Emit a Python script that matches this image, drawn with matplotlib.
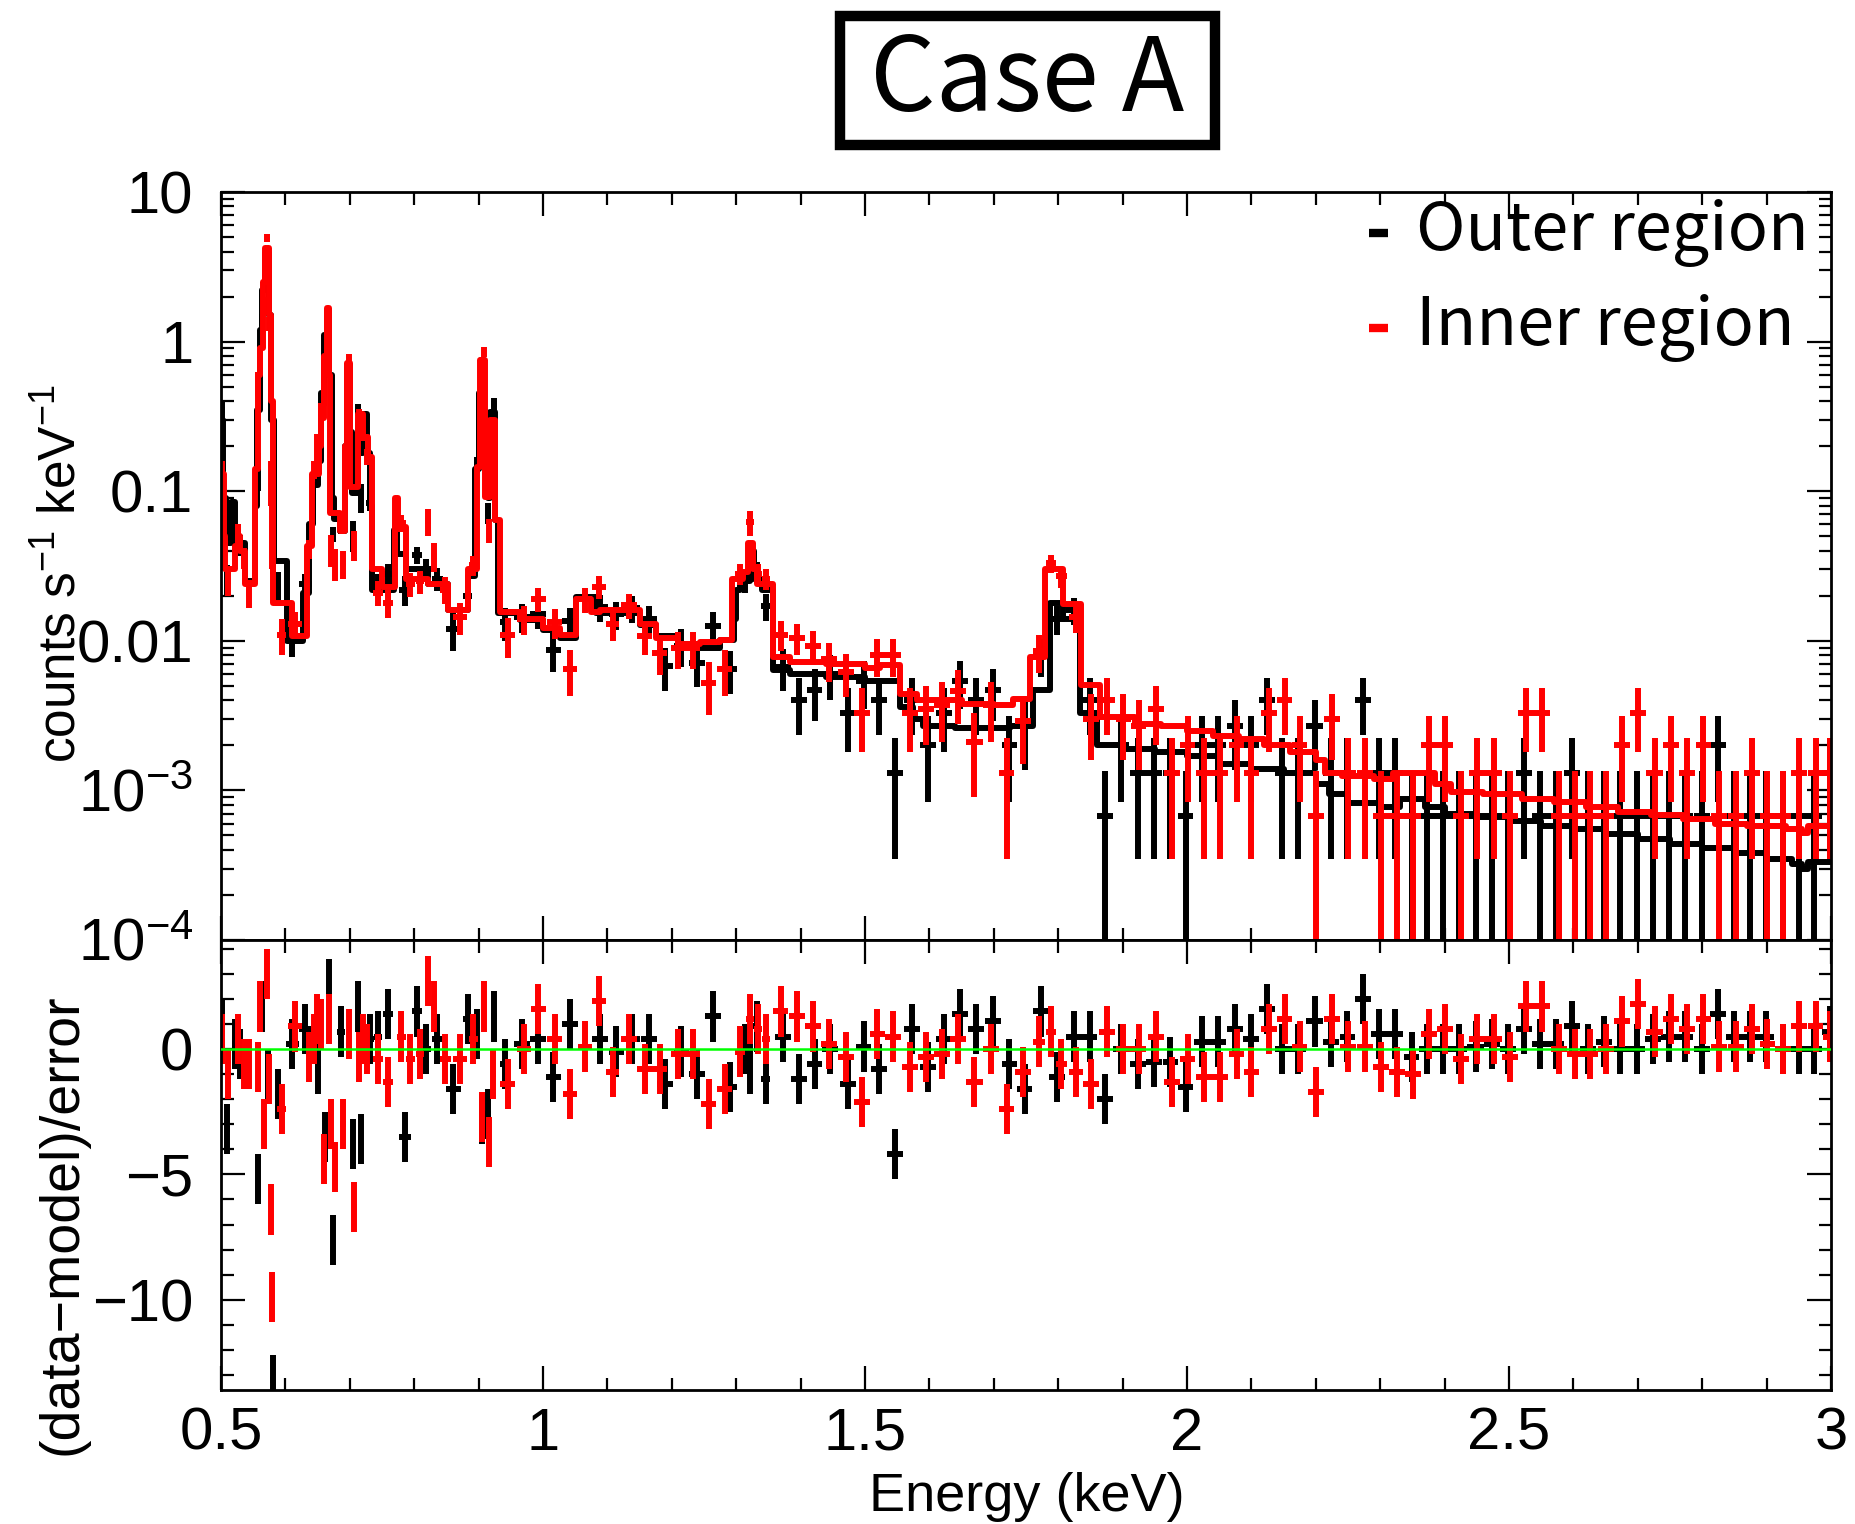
import numpy as np
import matplotlib
matplotlib.use("Agg")
import matplotlib.pyplot as plt
from matplotlib.patches import Rectangle
from matplotlib.ticker import FixedLocator, MultipleLocator, LogLocator, NullFormatter, FixedFormatter

plt.rcParams['font.family'] = ['Liberation Sans', 'DejaVu Sans']
plt.rcParams['mathtext.fontset'] = 'custom'
plt.rcParams['mathtext.rm'] = 'Liberation Sans'
plt.rcParams['mathtext.it'] = 'Liberation Sans:italic'
plt.rcParams['mathtext.bf'] = 'Liberation Sans:bold'

# model step curves: (bin lower edge keV, counts s^-1 keV^-1)
outer_model = [
    (0.500, 0.30), (0.503, 0.09), (0.507, 0.045), (0.516, 0.085), (0.521, 0.045),
    (0.537, 0.025), (0.553, 0.08), (0.556, 0.35), (0.560, 1.2), (0.564, 2.2),
    (0.568, 3.9), (0.574, 1.5), (0.578, 0.3), (0.582, 0.034), (0.602, 0.010),
    (0.628, 0.021), (0.636, 0.06), (0.643, 0.11), (0.650, 0.16), (0.655, 0.45),
    (0.660, 1.1), (0.664, 1.6), (0.668, 0.6), (0.672, 0.09), (0.676, 0.065),
    (0.685, 0.054), (0.692, 0.2), (0.696, 0.7), (0.700, 0.25), (0.704, 0.097),
    (0.712, 0.3), (0.717, 0.18), (0.721, 0.33), (0.726, 0.18), (0.731, 0.08),
    (0.735, 0.022), (0.768, 0.055), (0.773, 0.038), (0.788, 0.030), (0.822, 0.024),
    (0.853, 0.016), (0.884, 0.027), (0.894, 0.14), (0.900, 0.45), (0.904, 0.75),
    (0.909, 0.2), (0.914, 0.09), (0.918, 0.34), (0.925, 0.064), (0.930, 0.0153),
    (0.964, 0.0138), (1.000, 0.0118), (1.026, 0.0105), (1.052, 0.0195), (1.083, 0.0153),
    (1.150, 0.0128), (1.176, 0.0107), (1.210, 0.0095), (1.244, 0.0090), (1.275, 0.0101),
    (1.296, 0.014), (1.300, 0.022), (1.306, 0.025), (1.322, 0.040), (1.328, 0.026),
    (1.340, 0.022), (1.357, 0.0064), (1.384, 0.0060), (1.440, 0.0057), (1.500, 0.0054),
    (1.554, 0.0036), (1.575, 0.0030), (1.590, 0.0027), (1.640, 0.0026), (1.725, 0.0027),
    (1.761, 0.0047), (1.787, 0.018), (1.808, 0.014), (1.834, 0.0033), (1.860, 0.0020),
    (1.900, 0.0019), (1.950, 0.0018), (2.000, 0.0017), (2.050, 0.0015), (2.100, 0.0014),
    (2.150, 0.0013), (2.200, 0.0011), (2.220, 0.00095), (2.250, 0.00082), (2.300, 0.00078),
    (2.330, 0.00088), (2.370, 0.00078), (2.400, 0.00070), (2.450, 0.00066), (2.500, 0.00062),
    (2.550, 0.00058), (2.600, 0.00055), (2.650, 0.00051), (2.700, 0.00047), (2.750, 0.00044),
    (2.800, 0.00041), (2.850, 0.00038), (2.900, 0.00035), (2.940, 0.00032), (2.955, 0.00030),
    (2.965, 0.00033), (3.000, 0.00033),
]
inner_model = [
    (0.500, 0.13), (0.504, 0.05), (0.506, 0.030), (0.522, 0.043), (0.526, 0.05),
    (0.530, 0.04), (0.537, 0.024), (0.553, 0.14), (0.557, 0.6), (0.561, 0.9),
    (0.565, 2.5), (0.569, 4.2), (0.574, 1.5), (0.577, 0.4), (0.580, 0.018),
    (0.610, 0.0107), (0.633, 0.043), (0.641, 0.13), (0.652, 0.2), (0.656, 0.31),
    (0.660, 0.8), (0.664, 1.67), (0.668, 0.6), (0.670, 0.071), (0.685, 0.054),
    (0.692, 0.2), (0.696, 0.72), (0.700, 0.107), (0.713, 0.33), (0.721, 0.23),
    (0.729, 0.17), (0.734, 0.03), (0.750, 0.023), (0.770, 0.09), (0.775, 0.058),
    (0.788, 0.026), (0.822, 0.024), (0.853, 0.016), (0.884, 0.03), (0.897, 0.146),
    (0.902, 0.75), (0.910, 0.092), (0.918, 0.30), (0.926, 0.064), (0.933, 0.0156),
    (0.964, 0.0140), (1.000, 0.0122), (1.026, 0.011), (1.052, 0.019), (1.074, 0.0155),
    (1.088, 0.016), (1.150, 0.013), (1.176, 0.0104), (1.210, 0.0095), (1.244, 0.0098),
    (1.275, 0.0101), (1.293, 0.026), (1.310, 0.029), (1.318, 0.045), (1.326, 0.030),
    (1.332, 0.024), (1.357, 0.0078), (1.384, 0.0072), (1.440, 0.0070), (1.500, 0.0066),
    (1.523, 0.0069), (1.554, 0.0044), (1.580, 0.0040), (1.650, 0.0038), (1.700, 0.0037),
    (1.730, 0.0041), (1.756, 0.0078), (1.779, 0.030), (1.808, 0.0176), (1.836, 0.0051),
    (1.865, 0.0031), (1.920, 0.0028), (1.960, 0.0027), (2.000, 0.0025), (2.040, 0.0023),
    (2.080, 0.0022), (2.120, 0.0020), (2.160, 0.0018), (2.200, 0.0016), (2.215, 0.0013),
    (2.240, 0.00125), (2.290, 0.0012), (2.320, 0.0013), (2.385, 0.0011), (2.410, 0.00098),
    (2.460, 0.00094), (2.520, 0.00088), (2.570, 0.00084), (2.620, 0.00078), (2.670, 0.00072),
    (2.720, 0.00068), (2.770, 0.00064), (2.820, 0.00060), (2.870, 0.00058), (2.930, 0.00055),
    (2.955, 0.00052), (2.965, 0.00058), (3.000, 0.00058),
]

# data bins: (energy keV, flux, 1-sigma error, (data-model)/error)
outer_data = [
    (0.501, 0.35, 0.05, 1.0), (0.510, 0.026, 0.006, -3.2), (0.521, 0.047, 0.007, 0.2),
    (0.530, 0.044, 0.007, -0.2), (0.558, 0.14, 0.04, -5.2), (0.563, 1.4, 0.12, 1.7),
    (0.573, 3.6, 0.3, -1.0), (0.580, 0.036, 0.008, -13.2), (0.589, 0.023, 0.006, -1.8),
    (0.611, 0.0106, 0.0028, 0.2), (0.631, 0.024, 0.004, 0.8), (0.651, 0.144, 0.02, -0.8),
    (0.661, 0.75, 0.1, -3.5), (0.667, 0.78, 0.07, 2.6), (0.674, 0.052, 0.006, -7.6),
    (0.686, 0.060, 0.008, 0.7), (0.705, 0.051, 0.012, -3.8), (0.712, 0.35, 0.03, 1.7),
    (0.717, 0.092, 0.02, -3.6), (0.731, 0.084, 0.01, 0.4), (0.744, 0.024, 0.004, 0.5),
    (0.759, 0.028, 0.0045, 1.4), (0.786, 0.022, 0.005, -3.5), (0.804, 0.0375, 0.005, 1.5),
    (0.819, 0.030, 0.005, 0.0), (0.836, 0.026, 0.0045, 0.4), (0.861, 0.012, 0.0035, -1.6),
    (0.883, 0.020, 0.0038, 1.2), (0.897, 0.15, 0.018, 0.6), (0.905, 0.55, 0.07, -2.8),
    (0.915, 0.072, 0.012, -2.6), (0.924, 0.385, 0.035, 1.3), (0.941, 0.0133, 0.0033, -0.6),
    (0.967, 0.0145, 0.0032, 0.2), (0.992, 0.0152, 0.0033, 0.4), (1.016, 0.0087, 0.0025, -1.1),
    (1.042, 0.0135, 0.003, 1.0), (1.089, 0.0167, 0.0034, 0.4), (1.114, 0.015, 0.0032, -0.1),
    (1.138, 0.0166, 0.0034, 0.4), (1.164, 0.014, 0.0031, 0.4), (1.189, 0.0068, 0.0022, -1.4),
    (1.215, 0.0093, 0.0026, -0.1), (1.239, 0.0071, 0.0022, -1.0), (1.264, 0.0125, 0.003, 1.3),
    (1.290, 0.0065, 0.0021, -1.5), (1.314, 0.025, 0.0042, 0.0), (1.321, 0.036, 0.005, -0.8),
    (1.332, 0.029, 0.0045, 0.9), (1.346, 0.017, 0.0035, -1.2), (1.372, 0.0067, 0.0021, 0.5),
    (1.397, 0.0040, 0.00164, -1.2), (1.422, 0.0047, 0.00177, -0.6), (1.446, 0.0060, 0.0020, 0.0),
    (1.473, 0.0033, 0.0015, -1.4), (1.498, 0.0054, 0.0019, 0.1), (1.522, 0.0040, 0.00164, -0.8),
    (1.547, 0.0013, 0.00095, -4.2), (1.573, 0.0040, 0.00164, 0.8), (1.598, 0.0020, 0.00116, -0.7),
    (1.623, 0.0033, 0.0015, 0.4), (1.648, 0.0054, 0.0019, 1.4), (1.673, 0.0040, 0.00164, 0.8),
    (1.699, 0.0047, 0.00177, 1.1), (1.724, 0.0020, 0.00116, -0.6), (1.748, 0.0027, 0.00134, -1.6),
    (1.773, 0.0080, 0.0023, 1.5), (1.798, 0.014, 0.003, -1.1), (1.824, 0.016, 0.0033, 0.5),
    (1.849, 0.0040, 0.00164, 0.5), (1.873, 0.00067, 0.00067, -2.0), (1.898, 0.0020, 0.00116, 0.0),
    (1.924, 0.0013, 0.00095, -0.6), (1.949, 0.0013, 0.00095, -0.5), (1.974, 0.0013, 0.00095, -0.5),
    (1.998, 0.00067, 0.00067, -1.5), (2.023, 0.0020, 0.00116, 0.3), (2.048, 0.0020, 0.00116, 0.3),
    (2.074, 0.0027, 0.00134, 0.8), (2.099, 0.0020, 0.00116, 0.4), (2.124, 0.0040, 0.00164, 1.6),
    (2.148, 0.0013, 0.00095, 0.0), (2.173, 0.0013, 0.00095, 0.0), (2.198, 0.0027, 0.00134, 1.1),
    (2.223, 0.0013, 0.00095, 0.3), (2.249, 0.0013, 0.00095, 0.5), (2.273, 0.0040, 0.00164, 2.0),
    (2.298, 0.0013, 0.00095, 0.6), (2.323, 0.0013, 0.00095, 0.6), (2.349, 0.00067, 0.00067, -0.3),
    (2.373, 0.00067, 0.00067, 0.0), (2.398, 0.00067, 0.00067, 0.0), (2.423, 0.00067, 0.00067, 0.0),
    (2.448, 0.00067, 0.00067, 0.1), (2.473, 0.00067, 0.00067, 0.2), (2.498, 0.00067, 0.00067, 0.0),
    (2.523, 0.0013, 0.00095, 0.8), (2.548, 0.00067, 0.00067, 0.2), (2.573, 0.00067, 0.00067, 0.2),
    (2.598, 0.0013, 0.00095, 0.9), (2.623, 0.00067, 0.00067, 0.0), (2.648, 0.00067, 0.00067, 0.3),
    (2.673, 0.00067, 0.00067, 0.0), (2.698, 0.00067, 0.00067, 0.0), (2.723, 0.00067, 0.00067, 0.4),
    (2.748, 0.00067, 0.00067, 0.5), (2.773, 0.00067, 0.00067, 0.5), (2.799, 0.00067, 0.00067, 0.0),
    (2.824, 0.0020, 0.00116, 1.4), (2.849, 0.00067, 0.00067, 0.5), (2.874, 0.00067, 0.00067, 0.5),
    (2.899, 0.00067, 0.00067, 0.5), (2.925, 0.00067, 0.00067, 0.0), (2.950, 0.00067, 0.00067, 0.0),
    (2.974, 0.00067, 0.00067, 0.0), (2.998, 0.0013, 0.00095, 0.7),
]
inner_data = [
    (0.502, 0.138, 0.02, 0.4), (0.511, 0.025, 0.005, -1.0), (0.527, 0.053, 0.007, 0.4),
    (0.535, 0.036, 0.006, -0.6), (0.543, 0.021, 0.0045, -0.6), (0.557, 0.53, 0.1, -0.7),
    (0.560, 0.80, 0.12, 1.7), (0.567, 1.75, 0.25, -3.0), (0.571, 4.9, 0.3, 3.0),
    (0.5745, 1.32, 0.15, -1.2), (0.578, 0.12, 0.04, -6.4), (0.5795, 0.06, 0.03, -9.9),
    (0.594, 0.011, 0.003, -2.4), (0.615, 0.013, 0.0025, 0.9), (0.637, 0.041, 0.006, -0.3),
    (0.644, 0.14, 0.02, 0.4), (0.649, 0.20, 0.04, 1.2), (0.656, 0.35, 0.04, 1.0),
    (0.660, 0.45, 0.08, -4.4), (0.667, 0.68, 0.07, 1.2), (0.671, 0.041, 0.01, -3.0),
    (0.677, 0.033, 0.008, -4.7), (0.689, 0.033, 0.007, -3.0), (0.698, 0.76, 0.07, 0.6),
    (0.707, 0.044, 0.01, -6.3), (0.714, 0.32, 0.035, -0.3), (0.721, 0.24, 0.025, 0.4),
    (0.726, 0.17, 0.02, 0.0), (0.744, 0.021, 0.004, -0.4), (0.759, 0.018, 0.0038, -1.3),
    (0.780, 0.061, 0.008, 0.5), (0.794, 0.024, 0.0045, -0.4), (0.809, 0.025, 0.0045, -0.2),
    (0.822, 0.063, 0.013, 2.7), (0.831, 0.037, 0.008, 1.7), (0.848, 0.022, 0.0045, -0.4),
    (0.871, 0.0145, 0.0035, -0.4), (0.892, 0.032, 0.005, 0.4), (0.905, 0.55, 0.07, -2.7),
    (0.909, 0.86, 0.065, 1.7), (0.916, 0.055, 0.01, -3.7), (0.923, 0.27, 0.03, -1.0),
    (0.945, 0.011, 0.0033, -1.4), (0.971, 0.014, 0.003, 0.0), (0.993, 0.019, 0.0035, 1.6),
    (1.018, 0.0133, 0.003, 0.4), (1.042, 0.0065, 0.0022, -1.8), (1.065, 0.019, 0.0036, 0.1),
    (1.087, 0.023, 0.004, 1.9), (1.108, 0.013, 0.003, -0.9), (1.133, 0.0173, 0.0034, 0.4),
    (1.158, 0.0107, 0.0027, -0.8), (1.181, 0.0083, 0.0024, -0.8), (1.210, 0.009, 0.0025, -0.2),
    (1.233, 0.009, 0.0025, -0.2), (1.257, 0.0052, 0.002, -2.2), (1.282, 0.0065, 0.0022, -1.6),
    (1.306, 0.028, 0.0045, -0.1), (1.321, 0.062, 0.012, 1.2), (1.334, 0.028, 0.0045, 0.8),
    (1.346, 0.026, 0.004, 0.4), (1.369, 0.011, 0.0025, 1.5), (1.394, 0.0105, 0.0025, 1.3),
    (1.419, 0.0093, 0.0024, 0.9), (1.444, 0.0075, 0.0022, 0.2), (1.470, 0.0062, 0.002, -0.3),
    (1.495, 0.0033, 0.0015, -2.1), (1.519, 0.0080, 0.0023, 0.6), (1.544, 0.0080, 0.0023, 0.5),
    (1.570, 0.0033, 0.0015, -0.7), (1.595, 0.0035, 0.0015, -0.3), (1.620, 0.0037, 0.0016, -0.2),
    (1.645, 0.0046, 0.0018, 0.4), (1.670, 0.0021, 0.0012, -1.3), (1.696, 0.0037, 0.0016, 0.0),
    (1.720, 0.0013, 0.00095, -2.4), (1.745, 0.0029, 0.0014, -0.9), (1.770, 0.0085, 0.0024, 0.3),
    (1.789, 0.033, 0.0045, 0.7), (1.805, 0.027, 0.0043, -0.6), (1.827, 0.0145, 0.0033, -0.9),
    (1.851, 0.0030, 0.0014, -1.4), (1.876, 0.0040, 0.00164, 0.7), (1.901, 0.0030, 0.0014, 0.0),
    (1.925, 0.0027, 0.00134, 0.0), (1.952, 0.0035, 0.0015, 0.5), (1.977, 0.0013, 0.00095, -1.3),
    (2.001, 0.0020, 0.00116, -0.4), (2.026, 0.0013, 0.00095, -1.1), (2.051, 0.0013, 0.00095, -1.1),
    (2.077, 0.0020, 0.00116, -0.2), (2.100, 0.0013, 0.00095, -0.9), (2.127, 0.0033, 0.0015, 0.8),
    (2.152, 0.0040, 0.00164, 1.2), (2.175, 0.0020, 0.00116, 0.1), (2.200, 0.00067, 0.00067, -1.7),
    (2.225, 0.0030, 0.0014, 1.2), (2.250, 0.0013, 0.00095, 0.1), (2.276, 0.0013, 0.00095, 0.1),
    (2.301, 0.00067, 0.00067, -0.7), (2.326, 0.00067, 0.00067, -0.9), (2.351, 0.00067, 0.00067, -1.0),
    (2.376, 0.0020, 0.00116, 0.6), (2.401, 0.0020, 0.00116, 0.8), (2.426, 0.00067, 0.00067, -0.4),
    (2.451, 0.0013, 0.00095, 0.4), (2.476, 0.0013, 0.00095, 0.4), (2.501, 0.00067, 0.00067, -0.3),
    (2.526, 0.0033, 0.0015, 1.7), (2.551, 0.0033, 0.0015, 1.7), (2.577, 0.00067, 0.00067, 0.0),
    (2.602, 0.00067, 0.00067, -0.2), (2.626, 0.00067, 0.00067, -0.2), (2.651, 0.00067, 0.00067, 0.0),
    (2.676, 0.0020, 0.00116, 1.1), (2.701, 0.0033, 0.0015, 1.8), (2.726, 0.0013, 0.00095, 0.7),
    (2.751, 0.0020, 0.00116, 1.2), (2.776, 0.0013, 0.00095, 0.8), (2.802, 0.0020, 0.00116, 1.2),
    (2.826, 0.00067, 0.00067, 0.1), (2.852, 0.00067, 0.00067, 0.1), (2.877, 0.0013, 0.00095, 0.8),
    (2.901, 0.00067, 0.00067, 0.2), (2.926, 0.00067, 0.00067, 0.0), (2.951, 0.0013, 0.00095, 0.9),
    (2.976, 0.0013, 0.00095, 0.9), (2.998, 0.0013, 0.00095, 0.5),
]

series = [("Outer region", "black", outer_model, outer_data),
          ("Inner region", "#ff0000", inner_model, inner_data)]

top_ticks = [1e-4, 1e-3, 0.01, 0.1, 1, 10]
top_labels = [r"$10^{-4}$", r"$10^{-3}$", "0.01", "0.1", "1", "10"]
x_ticks = [0.5, 1, 1.5, 2, 2.5, 3]
x_labels = ["0.5", "1", "1.5", "2", "2.5", "3"]
res_ticks = [-10, -5, 0]
res_labels = ["\u221210", "\u22125", "0"]


def half_widths(e):
    d = np.diff(e)
    left = np.r_[d[0], d]
    right = np.r_[d, d[-1]]
    return np.minimum(np.minimum(left, right) / 2, 0.0125)


W, H = 1855, 1524
fig = plt.figure(figsize=(W / 100, H / 100), dpi=100)
ax1 = fig.add_axes([221 / W, 1 - 940 / H, 1610 / W, 748 / H])
ax2 = fig.add_axes([221 / W, 1 - 1390 / H, 1610 / W, 450 / H], sharex=ax1)

lw = 4.3
for name, col, model, data in series:
    me, mv = np.array(model).T
    ax1.step(me, mv, where="post", color=col, lw=lw)
    E, f, s, r = np.array(data).T
    dx = half_widths(E)
    lo = np.minimum(s, f - 1e-7)
    ax1.errorbar(E, f, xerr=dx, yerr=[lo, s], fmt="none", ecolor=col,
                 elinewidth=lw, capsize=0)
    ax2.errorbar(E, r, xerr=dx, yerr=1.0, fmt="none", ecolor=col,
                 elinewidth=lw, capsize=0)

ax2.axhline(0, color="#00ff00", lw=1.8, zorder=5)

ax1.set_yscale("log")
ax1.set_ylim(1e-4, 10)
ax1.set_xlim(0.5, 3.0)
ax2.set_ylim(-13.6, 4.35)

ax1.yaxis.set_major_locator(FixedLocator(top_ticks))
ax1.yaxis.set_major_formatter(FixedFormatter(top_labels))
ax1.yaxis.set_minor_locator(LogLocator(base=10, subs=np.arange(2, 10)))
ax1.yaxis.set_minor_formatter(NullFormatter())

ax2.xaxis.set_major_locator(FixedLocator(x_ticks))
ax2.xaxis.set_major_formatter(FixedFormatter(x_labels))
ax2.xaxis.set_minor_locator(MultipleLocator(0.1))
ax2.yaxis.set_major_locator(FixedLocator(res_ticks))
ax2.yaxis.set_major_formatter(FixedFormatter(res_labels))
ax2.yaxis.set_minor_locator(MultipleLocator(1))

for ax in (ax1, ax2):
    ax.tick_params(which="both", direction="in", top=True, right=True,
                   width=1.6, labelsize=43, pad=20)
    ax.tick_params(which="major", length=17)
    ax.tick_params(which="minor", length=9)
    for sp in ax.spines.values():
        sp.set_linewidth(2)
ax1.tick_params(axis="x", labelbottom=False)
ax2.tick_params(axis="x", pad=12)

fig.text(1027 / W, 1 - 1497 / H, "Energy (keV)", fontsize=39,
         ha="center", va="center")
fig.text(62 / W, 1 - 574 / H, r"counts s$^{-1}$ keV$^{-1}$", fontsize=37,
         rotation=90, ha="center", va="center")
fig.text(62 / W, 1 - 1224 / H, "(data\u2212model)/error", fontsize=40,
         rotation=90, ha="center", va="center")

fig.patches.append(Rectangle((840 / W, 1 - 145 / H), 375 / W, 129 / H,
                             transform=fig.transFigure, fill=False,
                             ec="black", lw=7.5))
fig.text(1027 / W, 1 - 82 / H, "Case A", fontsize=74,
         family=["Noto Sans CJK JP", "DejaVu Sans"], ha="center", va="center")

for (name, col, _, _), yy in zip(series, [0.945, 0.818]):
    ax1.plot([0.713, 0.725], [yy, yy], transform=ax1.transAxes, color=col,
             lw=6, solid_capstyle="butt")
    ax1.text(0.742, yy, name, transform=ax1.transAxes, fontsize=48, va="center",
             family=["Noto Sans CJK JP", "DejaVu Sans"])

fig.savefig("out.png", dpi=100)
